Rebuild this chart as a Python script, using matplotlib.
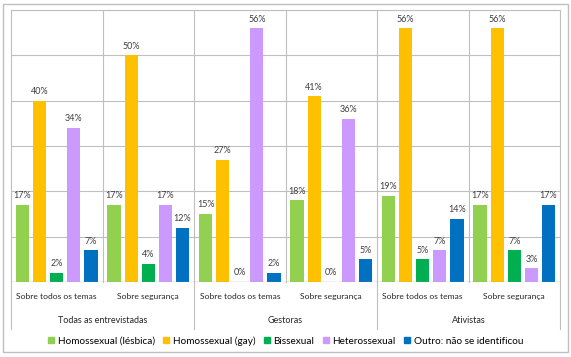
import numpy as np
import matplotlib
matplotlib.use('Agg')
import matplotlib.pyplot as plt
from matplotlib.patches import Rectangle
from matplotlib.lines import Line2D

plt.rcParams['font.family'] = ['Lato', 'DejaVu Sans']

# Dados
categorias = ['Sobre todos os temas', 'Sobre segurança',
              'Sobre todos os temas', 'Sobre segurança',
              'Sobre todos os temas', 'Sobre segurança']
grupos = ['Todas as entrevistadas', 'Gestoras', 'Ativistas']

series = ['Homossexual (lésbica)', 'Homossexual (gay)', 'Bissexual',
          'Heterossexual', 'Outro: não se identificou']
lesbica = [17, 17, 15, 18, 19, 17]
gay = [40, 50, 27, 41, 56, 56]
bissexual = [2, 4, 0, 0, 5, 7]
hetero = [34, 17, 56, 36, 7, 3]
outro = [7, 12, 2, 5, 14, 17]

cores = ['#92D050', '#FFC000', '#00B050', '#CC99FF', '#0070C0']
valores = [lesbica, gay, bissexual, hetero, outro]

fig = plt.figure(figsize=(5.71, 3.57), dpi=100)
ax = fig.add_axes([11 / 571, 75 / 357, 549 / 571, 272 / 357])

x = np.arange(len(categorias))
step = 0.187
largura = 0.143
for i, (vals, cor) in enumerate(zip(valores, cores)):
    pos = x + (i - 2) * step
    ax.bar(pos, vals, width=largura, color=cor, zorder=3)
    for p, v in zip(pos, vals):
        ax.text(p, v + 1.0, f'{v}%', ha='center', va='bottom',
                fontsize=6.5, color='#404040', zorder=4)

ax.set_xlim(-0.5, 5.5)
ax.set_ylim(0, 60)
ax.set_yticks(np.arange(0, 61, 10))
ax.set_yticklabels([])
ax.tick_params(axis='y', length=0)
ax.grid(True, axis='y', color='#BFBFBF', linewidth=0.8, zorder=0)

ax.set_xticks(x)
ax.set_xticklabels(categorias, fontsize=6.1, color='#262626')
ax.tick_params(axis='x', length=0, pad=8)

for s in ax.spines.values():
    s.set_visible(False)
ax.axhline(0, color='#A6A6A6', linewidth=0.9, zorder=4)

trans = ax.get_xaxis_transform()
# linhas verticais internas
for xv in [-0.5, 0.5, 1.5, 2.5, 3.5, 4.5, 5.5]:
    ax.plot([xv, xv], [0, 1], transform=trans, color='#BFBFBF',
            linewidth=0.8, zorder=1, clip_on=False)
# separadores de grupos
for xv in [-0.5, 1.5, 3.5, 5.5]:
    ax.plot([xv, xv], [-0.173, 0], transform=trans, color='#BFBFBF',
            linewidth=0.8, clip_on=False)
ax.plot([-0.5, 5.5], [1, 1], transform=trans, color='#BFBFBF',
        linewidth=0.8, clip_on=False)

for g, nome in enumerate(grupos):
    ax.text(2 * g + 0.5, -0.14, nome, transform=trans, ha='center',
            va='center', fontsize=6.5, color='#262626')

handles = [Line2D([0], [0], marker='s', linestyle='none', markersize=5,
                  markerfacecolor=c, markeredgecolor=c) for c in cores]
fig.legend(handles, series, loc='center', bbox_to_anchor=(0.5, 16 / 357),
           ncol=5, frameon=False, fontsize=7.2, handletextpad=0.3,
           columnspacing=0.8, handlelength=0.7)

fig.patches.append(Rectangle((3 / 571, 5 / 357), 565 / 571, 348 / 357,
                             transform=fig.transFigure, fill=False,
                             edgecolor='#BFBFBF', linewidth=1.0))

fig.savefig('out.png', dpi=100)
